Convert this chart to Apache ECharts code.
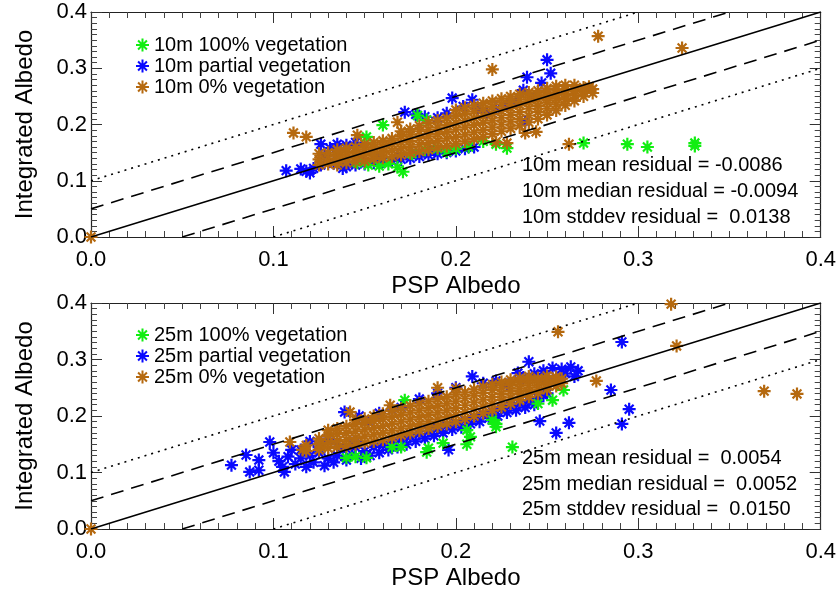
<!DOCTYPE html>
<html><head><meta charset="utf-8">
<script src="https://cdn.jsdelivr.net/npm/echarts@6/dist/echarts.min.js"></script>
<style>html,body{margin:0;padding:0;background:#fff}#c{width:839px;height:594px}</style>
</head><body><div id="c"></div>
<script>
// ---------- DATA ----------
const legend1 = ['10m 100% vegetation','10m partial vegetation','10m 0% vegetation'];
const legend2 = ['25m 100% vegetation','25m partial vegetation','25m 0% vegetation'];
const stats1 = ['10m mean residual = -0.0086','10m median residual = -0.0094','10m stddev residual =  0.0138'];
const stats2 = ['25m mean residual =  0.0054','25m median residual =  0.0052','25m stddev residual =  0.0150'];
const tickValues = [0.0,0.1,0.2,0.3,0.4];

const green10 = [[0.171,0.116],[0.168,0.124],[0.146,0.132],[0.152,0.128],[0.158,0.126],[0.163,0.13],[0.16,0.199],[0.151,0.178],[0.179,0.216],[0.184,0.208],[0.183,0.155],[0.19,0.157],[0.2,0.157],[0.207,0.16],[0.215,0.17],[0.222,0.165],[0.228,0.158],[0.27,0.167],[0.294,0.165],[0.305,0.16],[0.331,0.167],[0.331,0.162],[0.176,0.148],[0.195,0.152]];
const blue10 = [[0.107,0.118],[0.115,0.121],[0.118,0.117],[0.122,0.122],[0.12,0.114],[0.126,0.128],[0.128,0.145],[0.126,0.165],[0.131,0.158],[0.133,0.131],[0.138,0.122],[0.135,0.165],[0.14,0.163],[0.145,0.168],
 [0.14,0.125],[0.145,0.128],[0.15,0.13],[0.155,0.132],[0.16,0.134],[0.165,0.135],[0.17,0.138],[0.175,0.14],[0.18,0.143],[0.185,0.146],[0.19,0.148],[0.195,0.15],[0.2,0.153],[0.205,0.157],[0.21,0.16],[0.148,0.137],[0.158,0.14],[0.168,0.145],[0.178,0.15],[0.188,0.155],
 [0.172,0.222],[0.178,0.218],[0.183,0.214],[0.19,0.212],[0.195,0.22],[0.198,0.247],[0.209,0.244],[0.204,0.232],[0.212,0.228],[0.217,0.222],[0.222,0.228],[0.228,0.236],[0.233,0.24],[0.237,0.261],[0.239,0.284],[0.247,0.274],[0.25,0.315],[0.252,0.291],[0.243,0.25],[0.238,0.205]];
const brown10 = [[0,0],[0.111,0.185],[0.118,0.178],[0.146,0.181],[0.168,0.204],[0.278,0.357],[0.324,0.336],[0.22,0.298],[0.262,0.165],[0.273,0.267],[0.244,0.187],[0.238,0.185],[0.228,0.167],[0.222,0.169],
 [0.125,0.128],[0.125,0.138],[0.125,0.148],[0.13,0.13],[0.13,0.14],[0.13,0.15],[0.135,0.128],[0.135,0.137],[0.135,0.146],[0.135,0.155],
 [0.14,0.132],[0.14,0.141],[0.14,0.15],[0.14,0.158],[0.145,0.134],[0.145,0.143],[0.145,0.152],[0.145,0.16],[0.15,0.135],[0.15,0.146],[0.15,0.156],[0.15,0.165],
 [0.155,0.139],[0.155,0.149],[0.155,0.159],[0.155,0.168],[0.16,0.141],[0.16,0.151],[0.16,0.161],[0.16,0.171],[0.165,0.143],[0.165,0.154],[0.165,0.165],[0.165,0.175],
 [0.17,0.146],[0.17,0.157],[0.17,0.168],[0.17,0.179],[0.17,0.188],[0.175,0.149],[0.175,0.16],[0.175,0.171],[0.175,0.182],[0.175,0.192],
 [0.18,0.152],[0.18,0.164],[0.18,0.176],[0.18,0.188],[0.18,0.198],[0.185,0.155],[0.185,0.167],[0.185,0.179],[0.185,0.191],[0.185,0.203],
 [0.19,0.159],[0.19,0.171],[0.19,0.183],[0.19,0.195],[0.19,0.207],[0.195,0.162],[0.195,0.175],[0.195,0.187],[0.195,0.199],[0.195,0.211],
 [0.2,0.166],[0.2,0.178],[0.2,0.191],[0.2,0.203],[0.2,0.215],[0.205,0.17],[0.205,0.182],[0.205,0.195],[0.205,0.207],[0.205,0.219],
 [0.21,0.174],[0.21,0.186],[0.21,0.199],[0.21,0.211],[0.21,0.223],[0.215,0.178],[0.215,0.19],[0.215,0.203],[0.215,0.215],[0.215,0.227],
 [0.22,0.183],[0.22,0.195],[0.22,0.207],[0.22,0.219],[0.22,0.231],[0.225,0.188],[0.225,0.2],[0.225,0.212],[0.225,0.224],[0.225,0.236],
 [0.23,0.193],[0.23,0.205],[0.23,0.217],[0.23,0.229],[0.23,0.24],[0.235,0.198],[0.235,0.21],[0.235,0.222],[0.235,0.234],[0.235,0.244],
 [0.24,0.204],[0.24,0.216],[0.24,0.228],[0.24,0.239],[0.24,0.248],[0.245,0.21],[0.245,0.222],[0.245,0.233],[0.245,0.244],[0.245,0.252],
 [0.25,0.217],[0.25,0.228],[0.25,0.239],[0.25,0.249],[0.25,0.257],[0.255,0.225],[0.255,0.236],[0.255,0.246],[0.255,0.255],[0.255,0.262],
 [0.26,0.234],[0.26,0.244],[0.26,0.253],[0.26,0.262],[0.265,0.242],[0.265,0.252],[0.265,0.261],[0.27,0.25],[0.27,0.259],[0.27,0.266],[0.275,0.256],[0.275,0.263],
 [0.2,0.226],[0.205,0.23],[0.21,0.234],[0.215,0.238],[0.22,0.242],[0.225,0.246],[0.23,0.25],[0.235,0.254],[0.24,0.257],[0.245,0.26],[0.25,0.264],[0.255,0.268],[0.26,0.27],[0.265,0.27]];

const green25 = [[0.172,0.228],[0.14,0.126],[0.151,0.126],[0.165,0.145],[0.17,0.145],[0.185,0.143],[0.193,0.152],[0.206,0.15],[0.208,0.163],[0.206,0.175],[0.184,0.136],[0.22,0.193],[0.222,0.181],[0.222,0.186],[0.231,0.145],[0.253,0.228],[0.259,0.246],[0.245,0.222],[0.145,0.128]];
const blue25 = [[0.077,0.113],[0.085,0.131],[0.087,0.101],[0.092,0.122],[0.092,0.104],[0.098,0.154],[0.1,0.135],[0.106,0.101],[0.103,0.12],[0.108,0.128],[0.112,0.115],[0.115,0.125],[0.118,0.11],[0.12,0.13],[0.122,0.118],[0.125,0.135],[0.128,0.112],[0.13,0.125],[0.133,0.118],[0.135,0.13],[0.138,0.14],[0.14,0.122],[0.143,0.132],[0.145,0.145],[0.148,0.125],[0.15,0.138],[0.153,0.13],[0.155,0.145],[0.158,0.135],[0.16,0.148],[0.163,0.14],[0.165,0.152],[0.168,0.145],[0.17,0.158],[0.173,0.15],[0.175,0.163],[0.178,0.155],[0.18,0.168],[0.183,0.16],[0.185,0.173],[0.188,0.165],[0.19,0.178],[0.193,0.17],[0.195,0.183],[0.198,0.176],[0.2,0.188],[0.203,0.18],[0.205,0.193],[0.208,0.186],[0.21,0.198],[0.213,0.19],[0.215,0.203],[0.218,0.196],[0.22,0.208],[0.223,0.2],[0.225,0.213],[0.228,0.206],[0.23,0.218],[0.233,0.21],[0.235,0.222],[0.238,0.215],[0.24,0.227],[0.243,0.22],[0.245,0.232],[0.248,0.236],[0.25,0.24],
 [0.115,0.14],[0.12,0.155],[0.13,0.16],[0.139,0.207],[0.147,0.2],[0.152,0.19],[0.158,0.205],[0.165,0.21],[0.17,0.215],[0.18,0.23],[0.19,0.24],[0.2,0.25],[0.209,0.27],[0.215,0.258],[0.222,0.262],[0.228,0.255],[0.234,0.276],[0.24,0.296],[0.237,0.268],[0.243,0.275],[0.248,0.28],[0.253,0.285],[0.258,0.283],[0.263,0.287],[0.267,0.28],[0.265,0.27],[0.26,0.275],[0.255,0.265],[0.25,0.262],
 [0.291,0.331],[0.285,0.246],[0.295,0.212],[0.291,0.186],[0.255,0.17],[0.262,0.188],[0.246,0.191],[0.196,0.14],[0.11,0.14],[0.125,0.145],[0.135,0.15],[0.145,0.155],[0.105,0.11]];
const brown25 = [[0,0],[0.109,0.154],[0.116,0.14],[0.126,0.152],[0.142,0.207],[0.164,0.219],[0.19,0.25],[0.256,0.349],[0.318,0.398],[0.321,0.324],[0.369,0.244],[0.387,0.239],[0.277,0.262],
 [0.118,0.138],[0.118,0.148],[0.125,0.14],[0.125,0.15],[0.125,0.16],[0.13,0.143],[0.13,0.153],[0.13,0.165],[0.13,0.175],[0.135,0.145],[0.135,0.156],[0.135,0.168],[0.135,0.178],
 [0.14,0.147],[0.14,0.158],[0.14,0.17],[0.14,0.182],[0.145,0.15],[0.145,0.161],[0.145,0.173],[0.145,0.185],[0.145,0.193],[0.15,0.152],[0.15,0.164],[0.15,0.176],[0.15,0.188],[0.15,0.195],
 [0.155,0.155],[0.155,0.167],[0.155,0.179],[0.155,0.191],[0.155,0.2],[0.16,0.158],[0.16,0.17],[0.16,0.182],[0.16,0.194],[0.16,0.204],[0.165,0.162],[0.165,0.174],[0.165,0.186],[0.165,0.198],[0.165,0.209],
 [0.17,0.166],[0.17,0.178],[0.17,0.19],[0.17,0.202],[0.17,0.213],[0.175,0.17],[0.175,0.182],[0.175,0.194],[0.175,0.206],[0.175,0.218],[0.18,0.174],[0.18,0.186],[0.18,0.198],[0.18,0.21],[0.18,0.222],
 [0.185,0.178],[0.185,0.19],[0.185,0.202],[0.185,0.214],[0.185,0.226],[0.19,0.182],[0.19,0.194],[0.19,0.206],[0.19,0.218],[0.19,0.23],[0.195,0.186],[0.195,0.198],[0.195,0.21],[0.195,0.222],[0.195,0.234],
 [0.2,0.19],[0.2,0.202],[0.2,0.214],[0.2,0.226],[0.2,0.238],[0.2,0.248],[0.205,0.195],[0.205,0.207],[0.205,0.219],[0.205,0.231],[0.205,0.242],[0.21,0.2],[0.21,0.212],[0.21,0.224],[0.21,0.236],[0.21,0.247],
 [0.215,0.205],[0.215,0.217],[0.215,0.229],[0.215,0.241],[0.215,0.252],[0.22,0.21],[0.22,0.222],[0.22,0.234],[0.22,0.246],[0.22,0.256],[0.225,0.216],[0.225,0.228],[0.225,0.239],[0.225,0.25],[0.225,0.26],
 [0.23,0.222],[0.23,0.233],[0.23,0.244],[0.23,0.255],[0.23,0.264],[0.235,0.228],[0.235,0.239],[0.235,0.249],[0.235,0.259],[0.235,0.267],[0.24,0.234],[0.24,0.244],[0.24,0.254],[0.24,0.263],[0.24,0.27],
 [0.245,0.24],[0.245,0.25],[0.245,0.259],[0.245,0.267],[0.25,0.247],[0.25,0.256],[0.25,0.264],[0.25,0.271],[0.255,0.253],[0.255,0.261],[0.255,0.269],[0.258,0.258],[0.258,0.266]];

const oneToOne = [[0,0],[0.4,0.4]];
const dashUp = [[0,0.05],[0.35,0.4]];
const dashDown = [[0.05,0],[0.4,0.35]];
const dotUp = [[0,0.1],[0.3,0.4]];
const dotDown = [[0.1,0],[0.4,0.3]];

// ---------- STYLE ----------
const FONT = '"Liberation Sans", Arial, Helvetica, sans-serif';
const STAR = 'path://M0 5L10 5M5 0L5 10M1.6 1.6L8.4 8.4M8.4 1.6L1.6 8.4';
const C_GREEN = '#11ee11', C_BLUE = '#0a0aff', C_BROWN = '#b5690f';

const chart = echarts.init(document.getElementById('c'), null, {renderer:'canvas'});

function xAx(grid, bottom){
  return {type:'value', gridIndex:grid, min:0, max:0.4, interval:0.1, position: bottom?'bottom':'top',
    name: bottom?'PSP Albedo':'', nameLocation:'middle', nameGap:37,
    nameTextStyle:{fontSize:24, color:'#000', fontFamily:FONT},
    axisLine:{show:true, onZero:false, lineStyle:{color:'#222', width:1.2}},
    axisTick:{show:true, inside:true, length:11, lineStyle:{color:'#333', width:1}},
    minorTick:{show:true, splitNumber:10, length:6, lineStyle:{color:'#444', width:1}},
    splitLine:{show:false},
    axisLabel:{show:bottom, margin:12, fontSize:22, color:'#000', fontFamily:FONT, formatter:v=>v.toFixed(1)}};
}
function yAx(grid, left){
  return {type:'value', gridIndex:grid, min:0, max:0.4, interval:0.1, position: left?'left':'right',
    name: left?'Integrated Albedo':'', nameLocation:'middle', nameGap:54,
    nameTextStyle:{fontSize:24, color:'#000', fontFamily:FONT},
    axisLine:{show:true, onZero:false, lineStyle:{color:'#222', width:1.2}},
    axisTick:{show:true, inside:true, length:11, lineStyle:{color:'#333', width:1}},
    minorTick:{show:true, splitNumber:10, length:6, lineStyle:{color:'#444', width:1}},
    splitLine:{show:false},
    axisLabel:{show:left, margin:4, fontSize:22, color:'#000', fontFamily:FONT, formatter:v=>v.toFixed(1)}};
}
function scat(name, data, color, ax, z){
  return {type:'scatter', name, data, xAxisIndex:ax, yAxisIndex:ax, symbol:STAR, symbolSize:13, z,
    itemStyle:{color:color, borderColor:color, borderWidth:2.2, opacity:1}, emphasis:{disabled:true}, animation:false};
}
function ln(data, type, ax){
  return {type:'line', data, xAxisIndex:ax, yAxisIndex:ax, symbol:'none', silent:true, z:5, clip:true, animation:false,
    lineStyle:{color:'#000', width:1.6, type: type}};
}
function lines(ax){
  return [ln(oneToOne,'solid',ax), ln(dashUp,[13,8],ax), ln(dashDown,[13,8],ax), ln(dotUp,[2,5],ax), ln(dotDown,[2,5],ax)];
}
function statTexts(arr, ys){
  return arr.map((t,i)=>({type:'text', x:522, y:ys[i], z:100,
    style:{text:t, fontSize:20, fontFamily:FONT, fill:'#000', verticalAlign:'middle'}}));
}

const option = {
  backgroundColor:'#fff',
  animation:false,
  grid:[{left:91, top:12, width:730, height:225},{left:91, top:303, width:730, height:226}],
  xAxis:[xAx(0,true), xAx(0,false), xAx(1,true), xAx(1,false)],
  yAxis:[yAx(0,true), yAx(0,false), yAx(1,true), yAx(1,false)],
  legend:[
    {data:legend1, orient:'vertical', left:130, top:30, itemWidth:13, itemHeight:13, itemGap:1, icon:STAR,
     textStyle:{fontSize:20, color:'#000', fontFamily:FONT}, selectedMode:false},
    {data:legend2, orient:'vertical', left:130, top:320, itemWidth:13, itemHeight:13, itemGap:1, icon:STAR,
     textStyle:{fontSize:20, color:'#000', fontFamily:FONT}, selectedMode:false}
  ],
  series:[
    scat(legend1[0], green10, C_GREEN, 0, 3),
    scat(legend1[1], blue10, C_BLUE, 0, 2),
    scat(legend1[2], brown10, C_BROWN, 0, 4),
    ...lines(0),
    scat(legend2[0], green25, C_GREEN, 2, 3),
    scat(legend2[1], blue25, C_BLUE, 2, 2),
    scat(legend2[2], brown25, C_BROWN, 2, 4),
    ...lines(2)
  ],
  graphic:[...statTexts(stats1,[165,191,217]), ...statTexts(stats2,[458,484,509])]
};
chart.setOption(option);
</script>
</body></html>
